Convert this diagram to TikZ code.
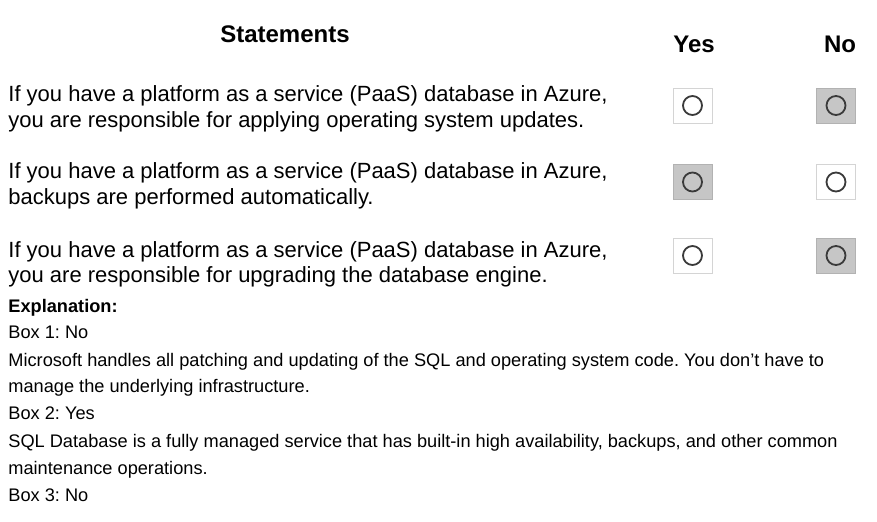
\documentclass[tikz,border=0pt]{standalone}
\usepackage{fontspec}
\setmainfont{Liberation Sans}
\usepackage{tikz}
\frenchspacing
\definecolor{boxline}{HTML}{D4D4D4}
\definecolor{boxgray}{HTML}{C6C6C6}
\definecolor{ringgray}{HTML}{3A3A3A}

\begin{document}
\begin{tikzpicture}[x=0.5pt, y=-0.5pt,
  head/.style={anchor=base, inner sep=0, font=\fontsize{12}{14}\selectfont\bfseries},
  stmt/.style={anchor=base west, inner sep=0, font=\fontsize{11}{13}\selectfont},
  expl/.style={anchor=base west, inner sep=0, font=\fontsize{9.1}{11}\selectfont},
  answer/.style={draw=boxline, line width=0.5pt, fill=white, minimum width=19.5pt, minimum height=17.5pt, inner sep=0},
  chosen/.style={answer, fill=boxgray, draw=boxgray!90!black},
  ring/.style={circle, draw=ringgray, line width=0.9pt, minimum size=9.5pt, inner sep=0}]
  \useasboundingbox (0,0) rectangle (877,521);

  % column heads
  \node[head] (statements) at (285,42) {Statements};
  \node[head] (yes) at (694,52) {Yes};
  \node[head] (no) at (840,52) {No};

  % statements
  \node[stmt] (s1a) at (8,101) {If you have a platform as a service (PaaS) database in Azure,};
  \node[stmt] (s1b) at (8,127) {you are responsible for applying operating system updates.};
  \node[stmt] (s2a) at (8,178) {If you have a platform as a service (PaaS) database in Azure,};
  \node[stmt] (s2b) at (8,204) {backups are performed automatically.};
  \node[stmt] (s3a) at (8,257) {If you have a platform as a service (PaaS) database in Azure,};
  \node[stmt] (s3b) at (8,282) {you are responsible for upgrading the database engine.};

  % answer boxes
  \node[answer] (y1) at (692.5,105.5) {};
  \node[chosen] (n1) at (836,105.5) {};
  \node[chosen] (y2) at (692.5,182) {};
  \node[answer] (n2) at (836,182) {};
  \node[answer] (y3) at (692.5,255.5) {};
  \node[chosen] (n3) at (836,255.5) {};
  \foreach \b in {y1,n1,y2,n2,y3,n3}
    \node[ring] at (\b) {};

  % explanation
  \node[expl, font=\fontsize{9.1}{11}\selectfont\bfseries] (ex) at (8,312) {Explanation:};
  \node[expl] (e1) at (8,338) {Box 1: No};
  \node[expl] (e2) at (8,366) {Microsoft handles all patching and updating of the SQL and operating system code. You don't have to};
  \node[expl] (e3) at (8,392) {manage the underlying infrastructure.};
  \node[expl] (e4) at (8,419) {Box 2: Yes};
  \node[expl] (e5) at (8,447) {SQL Database is a fully managed service that has built-in high availability, backups, and other common};
  \node[expl] (e6) at (8,474) {maintenance operations.};
  \node[expl] (e7) at (8,501) {Box 3: No};
\end{tikzpicture}
\end{document}
